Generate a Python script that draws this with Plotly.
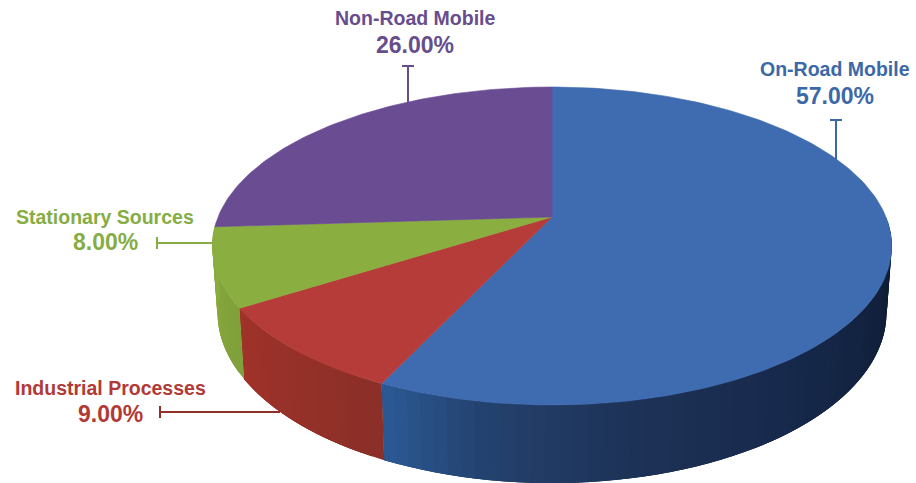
import math
import plotly.graph_objects as go

categories = ["On-Road Mobile", "Industrial Processes", "Stationary Sources", "Non-Road Mobile"]
values = [57, 9, 8, 26]
top_colors = ["#3f6cb0", "#b53c38", "#8aae40", "#6a4c93"]
text_colors = ["#3c68a8", "#b13a37", "#86ad44", "#674d8e"]
leader_colors = ["#3c68a8", "#8f302b", "#86ad44", "#674d8e"]
wall_stops = [
    [(95, "#0d1a30"), (140, "#16284a"), (170, "#1e3358"), (190, "#24426f"), (205.2, "#2c5a96")],
    [(205.2, "#8a2f28"), (237.6, "#a03229")],
    [(237.6, "#7f9f3a"), (266.4, "#8aae40")],
    [(266.4, "#6a4c93"), (360, "#6a4c93")],
]
name_pos = [(835, 69), (110, 388), (105, 217), (415, 18)]
pct_pos = [(835, 96), (110, 414), (105, 242), (415, 45)]
leaders = [
    (836, 160, 836, 120, "v"),
    (280, 412, 160, 412, "h"),
    (214, 243, 157, 243, "h"),
    (408, 104, 408, 66, "v"),
]

CX, CY, RX, RY, K, H, LOW = 552, 217, 334, 153.7, 0.1824, 64, 0.985


def pt(deg, lower=False):
    a = math.radians(deg)
    u, v = math.sin(a), -math.cos(a)
    w = 1 - K * v
    if lower:
        return CX + LOW * RX * u / w, CY + (RY * v + H) / w
    return CX + RX * u / w, CY + RY * v / w


def hex2rgb(c):
    return [int(c[i:i + 2], 16) for i in (1, 3, 5)]


def wall_color(stops, t):
    for (a, ca), (b, cb) in zip(stops, stops[1:]):
        if a <= t <= b:
            f = (t - a) / (b - a)
            x, y = hex2rgb(ca), hex2rgb(cb)
            return "rgb(%d,%d,%d)" % tuple(round(p + (q - p) * f) for p, q in zip(x, y))
    return stops[0][1] if t < stops[0][0] else stops[-1][1]


fig = go.Figure()
total = sum(values)
bounds = [0]
for val in values:
    bounds.append(bounds[-1] + val / total * 360)

# side walls: each band overlaps the next so no seams show
for i in range(3):
    a0, a1 = max(bounds[i], 90), bounds[i + 1]
    n = max(2, int((a1 - a0) / 2))
    step = (a1 - a0) / n
    for j in range(n):
        t0 = a0 + step * j
        t1 = min(a0 + step * (j + 3), a1)
        p = [pt(t0), pt(t0 + (t1 - t0) / 2), pt(t1), pt(t1, True), pt(t0 + (t1 - t0) / 2, True), pt(t0, True), pt(t0)]
        col = wall_color(wall_stops[i], t0 + step / 2)
        fig.add_trace(go.Scatter(x=[q[0] for q in p], y=[q[1] for q in p], mode="lines",
                                 fill="toself", fillcolor=col, line=dict(color=col, width=0),
                                 hoverinfo="skip", showlegend=False))

# top face
for i in range(4):
    n = max(4, int(bounds[i + 1] - bounds[i]))
    arc = [pt(bounds[i] + (bounds[i + 1] - bounds[i]) * j / n) for j in range(n + 1)]
    p = [(CX, CY)] + arc + [(CX, CY)]
    fig.add_trace(go.Scatter(x=[q[0] for q in p], y=[q[1] for q in p], mode="lines",
                             fill="toself", fillcolor=top_colors[i], line=dict(color=top_colors[i], width=0.6),
                             hoverinfo="skip", showlegend=False, name=categories[i]))

shapes, ann = [], []
for i, (x0, y0, x1, y1, kind) in enumerate(leaders):
    lc = leader_colors[i]
    shapes.append(dict(type="line", x0=x0, y0=y0, x1=x1, y1=y1, line=dict(color=lc, width=2), layer="below"))
    if kind == "v":
        shapes.append(dict(type="line", x0=x1 - 6, x1=x1 + 6, y0=y1, y1=y1, line=dict(color=lc, width=2)))
    else:
        shapes.append(dict(type="line", x0=x1, x1=x1, y0=y1 - 6, y1=y1 + 6, line=dict(color=lc, width=2)))
    ann.append(dict(x=name_pos[i][0], y=name_pos[i][1], text="<b>%s</b>" % categories[i], showarrow=False,
                    font=dict(family="Liberation Sans", size=19.5, color=text_colors[i]), xanchor="center", yanchor="middle"))
    ann.append(dict(x=pct_pos[i][0], y=pct_pos[i][1], text="<b>%.2f%%</b>" % values[i], showarrow=False,
                    font=dict(family="Liberation Sans", size=23, color=text_colors[i]), xanchor="center", yanchor="middle"))

fig.update_layout(
    width=916, height=483, margin=dict(l=0, r=0, t=0, b=0),
    paper_bgcolor="white", plot_bgcolor="white", showlegend=False,
    xaxis=dict(range=[0, 916], visible=False, fixedrange=True),
    yaxis=dict(range=[483, 0], visible=False, fixedrange=True),
    shapes=shapes, annotations=ann,
)
fig.write_html("out.html", config={"displayModeBar": False},
               post_script="document.body.style.margin='0';document.documentElement.style.overflow='hidden';")
